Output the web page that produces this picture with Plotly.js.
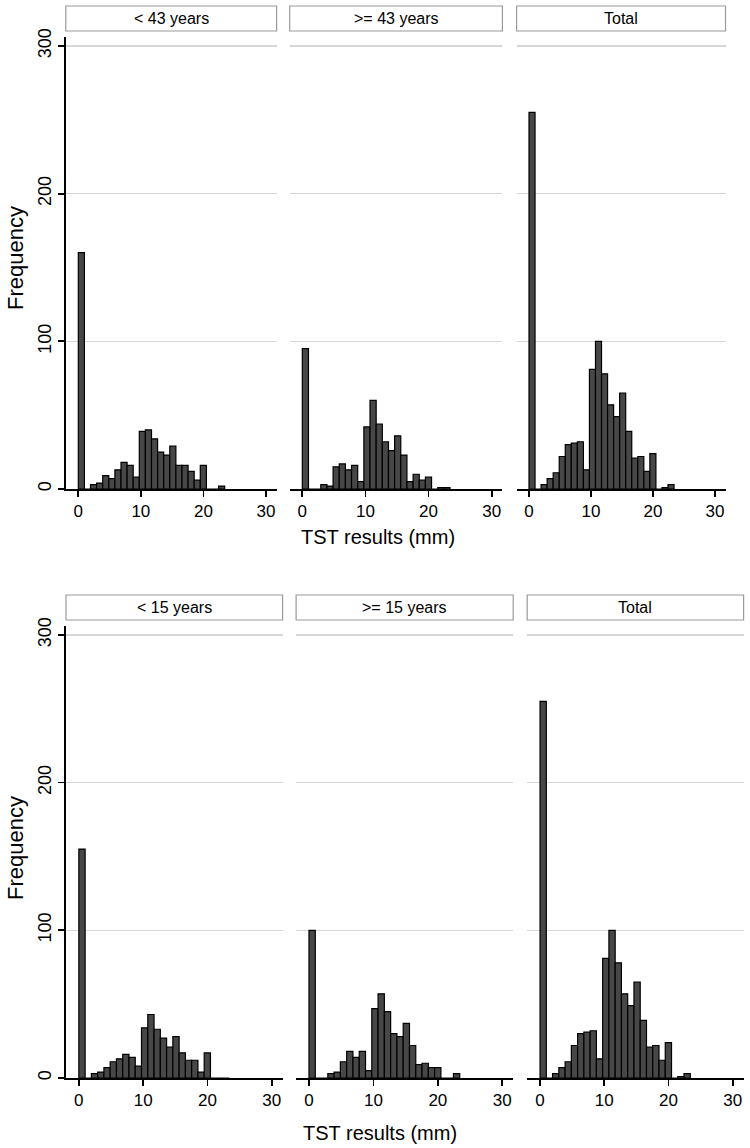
<!DOCTYPE html>
<html>
<head>
<meta charset="utf-8">
<script src="https://cdn.plot.ly/plotly-3.0.1.min.js"></script>
<style>html,body{margin:0;padding:0;background:#fff}#chart{width:750px;height:1148px}</style>
</head>
<body>
<div id="chart"></div>
<script>
// ---- data ----
const binWidth = 0.975;           // histogram bin width (mm)
const binIndex = [0,1,2,3,4,5,6,7,8,9,10,11,12,13,14,15,16,17,18,19,20,21,22,23];
const panelTitlesTop = ['< 43 years', '>= 43 years', 'Total'];
const panelTitlesBottom = ['< 15 years', '>= 15 years', 'Total'];
const countsUnder43 = [160,0,3,4,9,7,13,18,16,8,39,40,34,25,23,29,16,16,12,6,16,0,0,2];
const countsOver43  = [95,0,0,3,2,15,17,13,16,5,42,60,44,32,26,36,23,5,10,6,8,0,1,1];
const countsUnder15 = [155,0,3,4,7,11,13,16,14,8,34,43,33,27,21,28,17,12,12,4,17,0,0,0];
const countsOver15  = [100,0,0,3,4,11,18,14,18,5,47,57,45,30,28,37,22,9,10,7,7,0,0,3];
const countsTotal   = [255,0,3,7,11,22,30,31,32,13,81,100,78,57,49,65,39,21,22,12,24,0,1,3];
const xTicks = [0,10,20,30];
const yTicks = [0,100,200,300];
const xTitle = 'TST results (mm)';
const yTitle = 'Frequency';

// ---- geometry helpers (pixels -> paper) ----
const W = 750, H = 1148;
const px = v => v / W;
const py = v => 1 - v / H;

const binLeft = binIndex.map(i => i * binWidth);

const seriesList = [countsUnder43, countsOver43, countsTotal, countsUnder15, countsOver15, countsTotal];
const traces = seriesList.map((c, k) => ({
  type: 'bar',
  x: binLeft,
  y: c,
  width: binWidth,
  offset: 0,
  marker: {color: '#474747', line: {color: '#000000', width: 1.2}},
  xaxis: 'x' + (k === 0 ? '' : k + 1),
  yaxis: 'y' + (k === 0 ? '' : k + 1),
  hoverinfo: 'x+y'
}));

// panel horizontal domains in pixels [left, right]
const xDomPx = [[65.8,276.6],[289.7,502.4],[516.6,725.5],[66,282.6],[296.1,513.2],[527.2,743.6]];
const rowY = [[37.1,489],[626,1078]];

const baseFamily = 'Liberation Sans, Arial, Helvetica, sans-serif';
const tickFont = {family: baseFamily, size: 17, color: '#000'};
const layout = {
  width: W, height: H,
  margin: {l:0, r:0, t:0, b:0},
  paper_bgcolor: '#fff', plot_bgcolor: '#fff',
  showlegend: false,
  bargap: 0,
  shapes: [], annotations: []
};

for (let k = 0; k < 6; k++) {
  const s = k === 0 ? '' : String(k + 1);
  const row = k < 3 ? 0 : 1;
  const first = (k % 3) === 0;
  layout['xaxis' + s] = {
    domain: [px(xDomPx[k][0]), px(xDomPx[k][1])],
    anchor: 'y' + s,
    range: [-2, 31.7],
    tickvals: xTicks,
    ticks: 'outside', ticklen: 6, tickwidth: 1.8, tickcolor: '#000',
    showline: true, linecolor: '#000', linewidth: 2,
    showgrid: false, zeroline: false,
    tickfont: tickFont, fixedrange: true
  };
  layout['yaxis' + s] = {
    domain: [py(rowY[row][1]), py(rowY[row][0])],
    anchor: 'x' + s,
    range: [0, 306],
    tickvals: yTicks,
    showgrid: true, gridcolor: '#d6d6d6', gridwidth: 1.3,
    zeroline: false,
    showline: first, linecolor: '#000', linewidth: 1.8,
    ticks: first ? 'outside' : '', ticklen: 6, tickwidth: 1.8, tickcolor: '#000',
    showticklabels: first, tickangle: -90,
    tickfont: {family: baseFamily, size: 18, color: '#000'}, fixedrange: true
  };
  // strip header box + label
  const titles = row === 0 ? panelTitlesTop : panelTitlesBottom;
  const sy = row === 0 ? [6, 31] : [595, 620];
  layout.shapes.push({
    type: 'rect', xref: 'x' + s + ' domain', yref: 'paper',
    x0: 0, x1: 1, y0: py(sy[1]), y1: py(sy[0]),
    line: {color: '#9a9a9a', width: 1.2}, fillcolor: '#fff', layer: 'above'
  });
  layout.annotations.push({
    xref: 'x' + s + ' domain', yref: 'paper', x: 0.5, y: py((sy[0] + sy[1]) / 2),
    text: titles[k % 3], showarrow: false, xanchor: 'center', yanchor: 'middle',
    font: {family: baseFamily, size: 16, color: '#000'}
  });
}

// axis titles
const titleFont = {family: baseFamily, size: 20, color: '#000'};
layout.annotations.push(
  {xref:'paper', yref:'paper', x: px(378), y: py(537), text: xTitle, showarrow:false, xanchor:'center', yanchor:'middle', font: titleFont},
  {xref:'paper', yref:'paper', x: px(380), y: py(1133), text: xTitle, showarrow:false, xanchor:'center', yanchor:'middle', font: titleFont},
  {xref:'paper', yref:'paper', x: px(15), y: py(258), text: yTitle, textangle: -90, showarrow:false, xanchor:'center', yanchor:'middle', font: {family: baseFamily, size: 22, color: '#000'}},
  {xref:'paper', yref:'paper', x: px(15), y: py(848), text: yTitle, textangle: -90, showarrow:false, xanchor:'center', yanchor:'middle', font: {family: baseFamily, size: 22, color: '#000'}}
);

Plotly.newPlot('chart', traces, layout, {staticPlot: true, displayModeBar: false});
</script>
</body>
</html>
